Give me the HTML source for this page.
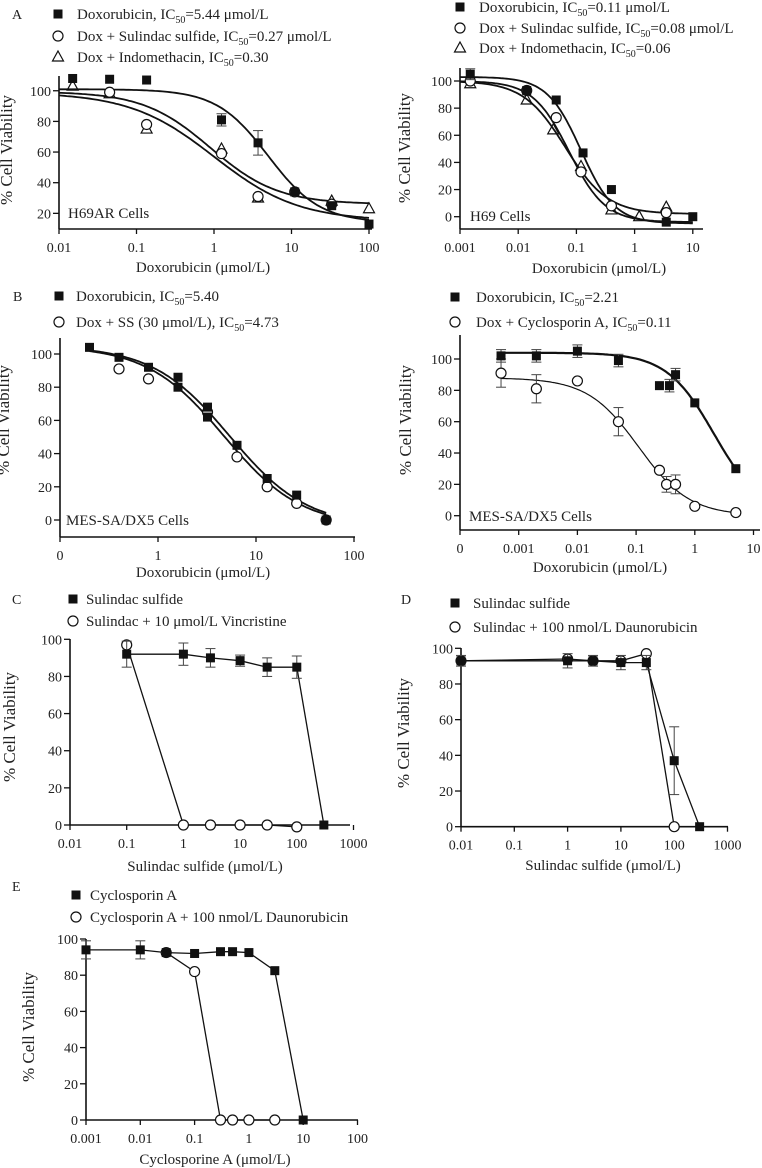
<!DOCTYPE html>
<html><head><meta charset="utf-8"><style>
html,body{margin:0;padding:0;background:#fff;}
svg{display:block;font-family:"Liberation Serif",serif;}
</style></head><body>
<svg id="fig" width="762" height="1168" viewBox="0 0 762 1168" xmlns="http://www.w3.org/2000/svg"></svg>
<script>
// ---- Data ----
// Panel A left (H69AR)
const aLX_dox=[0.015,0.045,0.135,1.25,3.7,11,33,100];
const aLY_dox=[108,107.5,107,81,66,34,25,13];
const aLE_dox=[0,0,0,4,8,0,0,0];
const aLX_ss=[0.045,0.135,1.25,3.7,11,33];
const aLY_ss=[99,78,59,31,34,26];
const aLX_ind=[0.015,0.045,0.135,1.25,3.7,33,100];
const aLY_ind=[103,98,75,62,30,28,23];
const aLFit_dox=[101,14,5.0,1.3];
const aLFit_ss=[99,15,1.0,0.8];
const aLFit_ind=[99.5,26,0.9,1.0];
// Panel A right (H69)
const aRX_dox=[0.0015,0.014,0.045,0.13,0.4,3.5,10];
const aRY_dox=[105,93,86,47,20,-4,0];
const aRE_dox=[4,0,0,0,0,0,0];
const aRX_ss=[0.0015,0.014,0.045,0.12,0.4,3.5];
const aRY_ss=[100,93,73,33,8,3];
const aRX_ind=[0.0015,0.014,0.04,0.12,0.4,1.2,3.5];
const aRY_ind=[98,86,64,37,5,0,7];
const aRFit_dox=[103,-5,0.12,1.5];
const aRFit_ss=[100,-4,0.075,1.4];
const aRFit_ind=[100,2,0.065,1.2];
// Panel B left
const bLX_dox=[0.2,0.4,0.8,1.6,1.6,3.2,3.2,6.4,13,26,52];
const bLY_dox=[104,98,92,86,80,68,62,45,25,15,0];
const bLX_ss=[0.4,0.8,3.2,6.4,13,26,52];
const bLY_ss=[91,85,65,38,20,10,0];
const bLFit_dox=[105,-4,5.4,1.1];
const bLFit_ss=[105,-4,4.73,1.1];
// Panel B right
const bRX_dox=[0.0005,0.002,0.01,0.05,0.25,0.37,0.47,1,5];
const bRY_dox=[102,102,105,99,83,83,90,72,30];
const bRE_dox=[4,4,4,4,0,4,4,0,0];
const bRX_cs=[0.0005,0.002,0.01,0.05,0.25,0.33,0.47,1,5];
const bRY_cs=[91,81,86,60,29,20,20,6,2];
const bRE_cs=[9,9,0,9,0,5,6,0,0];
const bRFit_dox=[104,0,2.14,1.07];
const bRFit_cs=[88,0,0.11,1.0];
// Panel C
const cX_ss=[0.1,1,3,10,30,100,300];
const cY_ss=[92,92,90,88.5,85,85,0];
const cE_ss=[7,6,5,3,5,6,0];
const cX_vin=[0.1,1,3,10,30,100];
const cY_vin=[97,0,0,0,0,-1];
// Panel D
const dX_ss=[0.01,1,3,10,30,100,300];
const dY_ss=[93,93,93,92,92,37,0];
const dE_ss=[3,4,3,4,4,19,0];
const dX_dau=[0.01,1,3,10,30,100];
const dY_dau=[93,94,93,93,97,0];
// Panel E
const eX_cs=[0.001,0.01,0.03,0.1,0.3,0.5,1,3,10];
const eY_cs=[94,94,92.5,92,93,93,92.5,82.5,0];
const eE_cs=[5,5,0,0,0,0,0,0,0];
const eX_dau=[0.03,0.1,0.3,0.5,1,3];
const eY_dau=[92.5,82,0,0,0,0];

const NS="http://www.w3.org/2000/svg";
const svg=document.getElementById('fig');
function mk(tag,attrs,parent){const e=document.createElementNS(NS,tag);for(const k in attrs)e.setAttribute(k,attrs[k]);(parent||svg).appendChild(e);return e;}
function makeAxes(p){
  return {
    X:v=>p.x0+(Math.log10(v)-p.lmin)*p.dec,
    Y:v=>p.yz-v*p.k
  };
}
function hill(f,x){return f[1]+(f[0]-f[1])/(1+Math.pow(x/f[2],f[3]));}

function drawAxes(p,g,ax){
  const axl=mk('g',{},g);
  
  
  mk('line',{x1:p.x0,y1:p.ay,x2:p.xe,y2:p.ay,stroke:'#111','stroke-width':1.6},axl);
  mk('line',{x1:p.x0,y1:p.ay,x2:p.x0,y2:p.at,stroke:'#111','stroke-width':1.6},axl);
  p.xt.forEach((lab,i)=>{
    const x=p.x0+i*p.dec;
    mk('line',{x1:x,y1:p.ay,x2:x,y2:p.ay+5,stroke:'#111','stroke-width':1.3},axl);
    const t=mk('text',{x:x,y:p.ay+23,'text-anchor':'middle','font-size':14,fill:'#222'},axl);
    t.textContent=lab;
    
    
  });
  p.yt.forEach(v=>{
    const y=ax.Y(v);
    mk('line',{x1:p.x0-6,y1:y,x2:p.x0,y2:y,stroke:'#111','stroke-width':1.3},axl);
    const t=mk('text',{x:p.x0-8,y:y+5,'text-anchor':'end','font-size':14,fill:'#222'},axl);
    t.textContent=v;
    
    
  });
  const yt=mk('text',{x:p.ytx,y:p.yty,'text-anchor':'middle','font-size':17,fill:'#222',transform:`rotate(-90 ${p.ytx} ${p.yty})`},g);
  yt.textContent='% Cell Viability';
  
  
  const xt=mk('text',{x:p.xtx,y:p.xty,'text-anchor':'middle','font-size':15,fill:'#222'},g);
  xt.textContent=p.xtitle;
  
  
  if(p.cell){
    const c=mk('text',{x:p.cellx,y:p.celly,'font-size':15,fill:'#222'},g);
    c.textContent=p.cell;
    
    
  }
}
function marker(type,x,y,g,big){
  let e;
  const s=big||9;
  if(type==='sq') e=mk('rect',{x:x-s/2,y:y-s/2,width:s,height:s,fill:'#111'},g);
  else if(type==='ci') e=mk('circle',{cx:x,cy:y,r:5,fill:'#fff',stroke:'#111','stroke-width':1.2},g);
  else e=mk('path',{d:`M${x} ${y-6}L${x+5.5} ${y+4}L${x-5.5} ${y+4}Z`,fill:'none',stroke:'#111','stroke-width':1.2},g);
  return e;
}
function series(g,ax,xs,ys,es,type,name){
  const sg=mk('g',{},g);
  
  
  xs.forEach((xv,i)=>{
    const x=ax.X(xv),y=ax.Y(ys[i]);
    if(es&&es[i]){
      const y1=ax.Y(ys[i]+es[i]),y2=ax.Y(ys[i]-es[i]);
      mk('line',{x1:x,y1:y1,x2:x,y2:y2,stroke:'#444','stroke-width':1},sg);
      mk('line',{x1:x-5,y1:y1,x2:x+5,y2:y1,stroke:'#444','stroke-width':1},sg);
      mk('line',{x1:x-5,y1:y2,x2:x+5,y2:y2,stroke:'#444','stroke-width':1},sg);
    }
    const m=marker(type,x,y,sg);
    
    
  });
}
function curve(g,ax,p,f,name,w){
  let d='';
  const lo=Math.log10(p.cx0),hi=Math.log10(p.cx1);
  for(let i=0;i<=120;i++){const lv=lo+(hi-lo)*i/120;const x=Math.pow(10,lv);d+=(i?'L':'M')+ax.X(x).toFixed(1)+' '+ax.Y(hill(f,x)).toFixed(1);}
  const c=mk('path',{d:d,fill:'none',stroke:'#111','stroke-width':w||1.8},g);
  
  
}
function polyline(g,ax,xs,ys,name){
  const pts=xs.map((x,i)=>ax.X(x).toFixed(1)+','+ax.Y(ys[i]).toFixed(1)).join(' ');
  const l=mk('polyline',{points:pts,fill:'none',stroke:'#111','stroke-width':1.3},g);
  
  
}
function legend(g,items,mx,tx,ys){
  items.forEach((it,i)=>{
    const lg=mk('g',{},g);
    
    
    marker(it[0],mx,ys[i],lg);
    const t=mk('text',{x:tx,y:ys[i]+5,'font-size':15,fill:'#222'},lg);
    t.innerHTML=it[1];
  });
}
function letter(g,ch,x,y){
  const t=mk('text',{x:x,y:y+5,'font-size':14,fill:'#222'},g);
  t.textContent=ch;
  
  
}
const sub=v=>`IC<tspan font-size="10" dy="4">50</tspan><tspan dy="-4">=${v}</tspan>`;

// ---- Panel A left ----
(function(){
  const p={x0:59,lmin:-2,dec:77.5,yz:244,k:1.5325,ay:229,at:76,xe:372,xt:['0.01','0.1','1','10','100'],yt:[20,40,60,80,100],ytx:12,yty:150,xtx:203,xty:272,xtitle:'Doxorubicin (μmol/L)',cell:'H69AR Cells',cellx:68,celly:218,cx0:0.01,cx1:100};
  const g=mk('g',{});
  const ax=makeAxes(p);
  letter(g,'A',12,14);
  legend(g,[['sq','Doxorubicin, '+sub('5.44 μmol/L')],['ci','Dox + Sulindac sulfide, '+sub('0.27 μmol/L')],['tr','Dox + Indomethacin, '+sub('0.30')]],58,77,[14,36,57]);
  drawAxes(p,g,ax);
  curve(g,ax,p,aLFit_dox,'fit-dox');curve(g,ax,p,aLFit_ss,'fit-ss');curve(g,ax,p,aLFit_ind,'fit-ind');
  series(g,ax,aLX_ind,aLY_ind,null,'tr','series-indomethacin');
  series(g,ax,aLX_ss,aLY_ss,null,'ci','series-sulindac');
  series(g,ax,aLX_dox,aLY_dox,aLE_dox,'sq','series-doxorubicin');
})();
// ---- Panel A right ----
(function(){
  const p={x0:460,lmin:-3,dec:58.2,yz:216.7,k:1.357,ay:229,at:68,xe:703,xt:['0.001','0.01','0.1','1','10'],yt:[0,20,40,60,80,100],ytx:410,yty:148,xtx:599,xty:273,xtitle:'Doxorubicin (μmol/L)',cell:'H69 Cells',cellx:470,celly:221,cx0:0.001,cx1:10};
  const g=mk('g',{});
  const ax=makeAxes(p);
  legend(g,[['sq','Doxorubicin, '+sub('0.11 μmol/L')],['ci','Dox + Sulindac sulfide, '+sub('0.08 μmol/L')],['tr','Dox + Indomethacin, '+sub('0.06')]],460,479,[7,28,48]);
  drawAxes(p,g,ax);
  curve(g,ax,p,aRFit_dox,'fit-dox');curve(g,ax,p,aRFit_ss,'fit-ss');curve(g,ax,p,aRFit_ind,'fit-ind');
  series(g,ax,aRX_ind,aRY_ind,null,'tr','series-indomethacin');
  series(g,ax,aRX_ss,aRY_ss,null,'ci','series-sulindac');
  series(g,ax,aRX_dox,aRY_dox,aRE_dox,'sq','series-doxorubicin');
})();
// ---- Panel B left ----
(function(){
  const p={x0:60,lmin:-1,dec:98,yz:520,k:1.66,ay:537,at:338,xe:355,xt:['0','1','10','100'],yt:[0,20,40,60,80,100],ytx:9,yty:420,xtx:203,xty:577,xtitle:'Doxorubicin (μmol/L)',cell:'MES-SA/DX5 Cells',cellx:66,celly:525,cx0:0.2,cx1:52};
  const g=mk('g',{});
  const ax=makeAxes(p);
  letter(g,'B',13,296);
  legend(g,[['sq','Doxorubicin, '+sub('5.40')],['ci','Dox + SS (30 μmol/L), '+sub('4.73')]],59,76,[296,322]);
  drawAxes(p,g,ax);
  curve(g,ax,p,bLFit_dox,'fit-dox');curve(g,ax,p,bLFit_ss,'fit-ss');
  series(g,ax,bLX_ss,bLY_ss,null,'ci','series-dox-ss');
  series(g,ax,bLX_dox,bLY_dox,null,'sq','series-doxorubicin');
})();
// ---- Panel B right ----
(function(){
  const p={x0:460,lmin:-4,dec:58.7,yz:515.7,k:1.567,ay:530,at:335,xe:760,xt:['0','0.001','0.01','0.1','1','10'],yt:[0,20,40,60,80,100],ytx:411,yty:420,xtx:600,xty:572,xtitle:'Doxorubicin (μmol/L)',cell:'MES-SA/DX5 Cells',cellx:469,celly:521,cx0:0.0005,cx1:5};
  const g=mk('g',{});
  const ax=makeAxes(p);
  legend(g,[['sq','Doxorubicin, '+sub('2.21')],['ci','Dox + Cyclosporin A, '+sub('0.11')]],455,476,[297,322]);
  drawAxes(p,g,ax);
  curve(g,ax,p,bRFit_dox,'fit-dox',2.2);curve(g,ax,p,bRFit_cs,'fit-cyclosporin',1.2);
  series(g,ax,bRX_cs,bRY_cs,bRE_cs,'ci','series-dox-cyclosporin');
  series(g,ax,bRX_dox,bRY_dox,bRE_dox,'sq','series-doxorubicin');
})();
// ---- Panel C ----
(function(){
  const p={x0:70,lmin:-2,dec:56.7,yz:825,k:1.857,ay:825,at:639,xe:350,xt:['0.01','0.1','1','10','100','1000'],yt:[0,20,40,60,80,100],ytx:15,yty:727,xtx:205,xty:871,xtitle:'Sulindac sulfide (μmol/L)'};
  const g=mk('g',{});
  const ax=makeAxes(p);
  letter(g,'C',12,599);
  legend(g,[['sq','Sulindac sulfide'],['ci','Sulindac + 10 μmol/L Vincristine']],73,86,[599,621]);
  drawAxes(p,g,ax);
  polyline(g,ax,cX_vin,cY_vin,'line-vincristine');
  polyline(g,ax,cX_ss,cY_ss,'line-sulindac');
  series(g,ax,cX_vin,cY_vin,null,'ci','series-vincristine');
  series(g,ax,cX_ss,cY_ss,cE_ss,'sq','series-sulindac');
})();
// ---- Panel D ----
(function(){
  const p={x0:461,lmin:-2,dec:53.3,yz:826.7,k:1.784,ay:826.7,at:648,xe:728,xt:['0.01','0.1','1','10','100','1000'],yt:[0,20,40,60,80,100],ytx:409,yty:733,xtx:603,xty:870,xtitle:'Sulindac sulfide (μmol/L)'};
  const g=mk('g',{});
  const ax=makeAxes(p);
  letter(g,'D',401,599);
  legend(g,[['sq','Sulindac sulfide'],['ci','Sulindac + 100 nmol/L Daunorubicin']],455,473,[603,627]);
  drawAxes(p,g,ax);
  polyline(g,ax,dX_dau,dY_dau,'line-daunorubicin');
  polyline(g,ax,dX_ss,dY_ss,'line-sulindac');
  series(g,ax,dX_dau,dY_dau,null,'ci','series-daunorubicin');
  series(g,ax,dX_ss,dY_ss,dE_ss,'sq','series-sulindac');
})();
// ---- Panel E ----
(function(){
  const p={x0:86,lmin:-3,dec:54.3,yz:1120,k:1.81,ay:1120,at:939,xe:358,xt:['0.001','0.01','0.1','1','10','100'],yt:[0,20,40,60,80,100],ytx:34,yty:1027,xtx:215,xty:1164,xtitle:'Cyclosporine A (μmol/L)'};
  const g=mk('g',{});
  const ax=makeAxes(p);
  letter(g,'E',12,886);
  legend(g,[['sq','Cyclosporin A'],['ci','Cyclosporin A + 100 nmol/L Daunorubicin']],76,90,[895,917]);
  drawAxes(p,g,ax);
  polyline(g,ax,eX_dau,eY_dau,'line-daunorubicin');
  polyline(g,ax,eX_cs,eY_cs,'line-cyclosporin');
  series(g,ax,eX_dau,eY_dau,null,'ci','series-daunorubicin');
  series(g,ax,eX_cs,eY_cs,eE_cs,'sq','series-cyclosporin');
})();
</script>
</body></html>
